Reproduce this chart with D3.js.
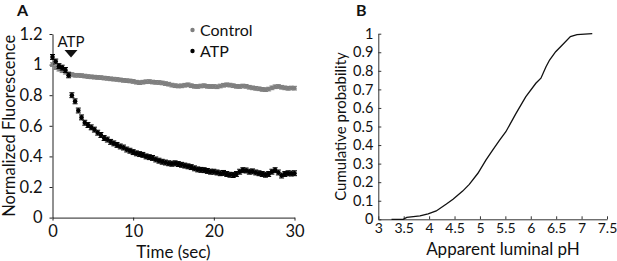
<!DOCTYPE html>
<html>
<head>
<meta charset="utf-8">
<script src="https://d3js.org/d3.v7.min.js"></script>
<style>
  body { margin: 0; background: #fff; }
  text { font-family: Lato, "Open Sans", sans-serif; fill: #111; }
</style>
</head>
<body>
<div id="chart"></div>
<script>
// panel A: sampled every 0.4 s
const timeStep = 0.4
const controlVals = [1.00, 0.98, 0.97, 0.96, 0.95, 0.94,
  0.935, 0.93, 0.93, 0.928, 0.925,
  0.922, 0.92, 0.918, 0.916, 0.915,
  0.912, 0.91, 0.907, 0.905, 0.903,
  0.90, 0.897, 0.895, 0.893, 0.89,
  0.885, 0.882, 0.885, 0.888, 0.889,
  0.886, 0.884, 0.883, 0.88, 0.876,
  0.872, 0.866, 0.862, 0.86, 0.861,
  0.865, 0.868, 0.862, 0.858, 0.857,
  0.86, 0.862, 0.858, 0.857, 0.857,
  0.855, 0.86, 0.865, 0.868, 0.866,
  0.862, 0.858, 0.857, 0.86, 0.858,
  0.852, 0.848, 0.845, 0.842, 0.838,
  0.836, 0.84, 0.848, 0.855, 0.857,
  0.852, 0.848, 0.845, 0.847, 0.846]
const atpVals = [1.05, 1.02, 0.99, 0.98, 0.965, 0.93,
  0.80, 0.76, 0.70, 0.655, 0.62,
  0.605, 0.59, 0.575, 0.555, 0.54,
  0.52, 0.51, 0.495, 0.485, 0.475,
  0.465, 0.458, 0.445, 0.437, 0.428,
  0.42, 0.415, 0.41, 0.40, 0.395,
  0.39, 0.38, 0.372, 0.365, 0.36,
  0.355, 0.352, 0.355, 0.35, 0.345,
  0.34, 0.335, 0.33, 0.322, 0.315,
  0.312, 0.31, 0.305, 0.30, 0.30,
  0.295, 0.29, 0.292, 0.285, 0.28,
  0.278, 0.285, 0.30, 0.31, 0.308,
  0.30, 0.302, 0.295, 0.29, 0.285,
  0.28, 0.285, 0.30, 0.31, 0.295,
  0.275, 0.285, 0.29, 0.288, 0.29]
const controlErr = 0.012
const atpErr = 0.016
const aYTicks = [0, 0.2, 0.4, 0.6, 0.8, 1, 1.2]
const aXTicks = [0, 10, 20, 30]

// panel B: cumulative distribution
const cdfPH = [3.26, 3.49, 3.56, 3.82, 3.98, 4.14, 4.34, 4.47, 4.66, 4.79, 4.96, 5.12, 5.25,
  5.38, 5.51, 5.71, 5.90, 6.10, 6.20, 6.30, 6.37, 6.49, 6.62, 6.78, 6.91, 7.21]
const cdfProb = [0, 0, 0.01, 0.018, 0.029, 0.045, 0.082, 0.108, 0.152, 0.188, 0.248, 0.32, 0.373,
  0.424, 0.472, 0.571, 0.66, 0.733, 0.76, 0.822, 0.858, 0.903, 0.939, 0.984, 0.995, 1.0]
const bYTicks = [0, 0.1, 0.2, 0.3, 0.4, 0.5, 0.6, 0.7, 0.8, 0.9, 1]
const bXTicks = [3, 3.5, 4, 4.5, 5, 5.5, 6, 6.5, 7, 7.5]

const svg = d3.select("#chart").append("svg")
    .attr("width", 617)
    .attr("height", 261)

// ---------- panel A ----------
const xA = d3.scaleLinear().domain([0, 30]).range([52.5, 294.5])
const yA = d3.scaleLinear().domain([0, 1.2]).range([217.6, 34])

const gA = svg.append("g")

gA.append("g")
    .attr("transform", `translate(0,${yA(0)})`)
    .call(d3.axisBottom(xA).tickValues(aXTicks).tickSize(3).tickSizeOuter(0).tickPadding(3))
    .call(g => g.selectAll("text").style("font-size", "16.5px").attr("dy", "0.8em"))

gA.append("g")
    .attr("transform", `translate(${xA(0)},0)`)
    .call(d3.axisLeft(yA).tickValues(aYTicks).tickSize(3).tickSizeOuter(0).tickPadding(7)
        .tickFormat(d => d3.format("")(+d.toFixed(1))))
    .call(g => g.selectAll("text").style("font-size", "16.5px"))

gA.selectAll(".domain, .tick line").attr("stroke", "#222")

const drawSeries = (vals, err, color, r) => {
    const pts = vals.map((v, i) => ({t: i * timeStep, v}))
    const s = gA.append("g")
    s.selectAll("path.err")
        .data(pts)
        .enter()
        .append("path")
            .attr("class", "err")
            .attr("d", d => {
                const x = xA(d.t), y1 = yA(d.v + err), y2 = yA(d.v - err)
                return `M${x - 2.5},${y1}H${x + 2.5}M${x},${y1}V${y2}M${x - 2.5},${y2}H${x + 2.5}`
            })
            .attr("stroke", color)
            .attr("stroke-width", 1)
            .attr("fill", "none")
    s.selectAll("circle")
        .data(pts)
        .enter()
        .append("circle")
            .attr("cx", d => xA(d.t))
            .attr("cy", d => yA(d.v))
            .attr("r", r)
            .attr("fill", color)
}
drawSeries(controlVals, controlErr, "#7f7f7f", 2.1)
drawSeries(atpVals, atpErr, "#000", 2.3)

// ATP marker
gA.append("path")
    .attr("d", "M64.5,50 L77.5,50 L71,57.5 Z")
    .attr("fill", "#111")
gA.append("text")
    .attr("x", 71).attr("y", 47)
    .attr("text-anchor", "middle")
    .style("font-size", "15px")
    .text("ATP")

// legend
const legend = [["Control", "#7f7f7f"], ["ATP", "#000"]]
legend.forEach(([name, color], i) => {
    gA.append("circle").attr("cx", 192.5).attr("cy", 30 + i * 21).attr("r", 2.2).attr("fill", color)
    gA.append("text").attr("x", 200).attr("y", 36 + i * 21).style("font-size", "16px").text(name)
})

gA.append("text")
    .attr("x", xA(15)).attr("y", 258)
    .attr("text-anchor", "middle")
    .style("font-size", "17px")
    .text("Time (sec)")

gA.append("text")
    .attr("transform", `translate(15,${yA(0.6)}) rotate(-90)`)
    .attr("text-anchor", "middle")
    .style("font-size", "16.5px")
    .text("Normalized Fluorescence")

gA.append("text")
    .attr("x", 17).attr("y", 16)
    .style("font-size", "16px").style("font-weight", "bold")
    .text("A")

// ---------- panel B ----------
const xB = d3.scaleLinear().domain([3, 7.5]).range([378.3, 607])
const yB = d3.scaleLinear().domain([0, 1]).range([219.3, 33.7])

const gB = svg.append("g")

gB.append("g")
    .attr("transform", `translate(0,${yB(0)})`)
    .call(d3.axisBottom(xB).tickValues(bXTicks).tickSize(-3).tickSizeOuter(0).tickPadding(3)
        .tickFormat(d => d3.format("")(d)))
    .call(g => g.selectAll("text").style("font-size", "14px").attr("dy", "0.75em"))

gB.append("g")
    .attr("transform", `translate(${xB(3)},0)`)
    .call(d3.axisLeft(yB).tickValues(bYTicks).tickSize(-3).tickSizeOuter(0).tickPadding(5)
        .tickFormat(d => d3.format("")(d)))
    .call(g => g.selectAll("text").style("font-size", "14.5px"))

gB.selectAll(".domain, .tick line").attr("stroke", "#333")

gB.append("path")
    .datum(cdfPH.map((p, i) => [p, cdfProb[i]]))
    .attr("d", d3.line().x(d => xB(d[0])).y(d => yB(d[1])))
    .attr("fill", "none")
    .attr("stroke", "#111")
    .attr("stroke-width", 1.3)

gB.append("text")
    .attr("x", 503).attr("y", 255)
    .attr("text-anchor", "middle")
    .style("font-size", "17px")
    .text("Apparent luminal pH")

gB.append("text")
    .attr("transform", `translate(346,${yB(0.5)}) rotate(-90)`)
    .attr("text-anchor", "middle")
    .style("font-size", "15px")
    .text("Cumulative probability")

gB.append("text")
    .attr("x", 356).attr("y", 16)
    .style("font-size", "16px").style("font-weight", "bold")
    .text("B")
</script>
</body>
</html>
